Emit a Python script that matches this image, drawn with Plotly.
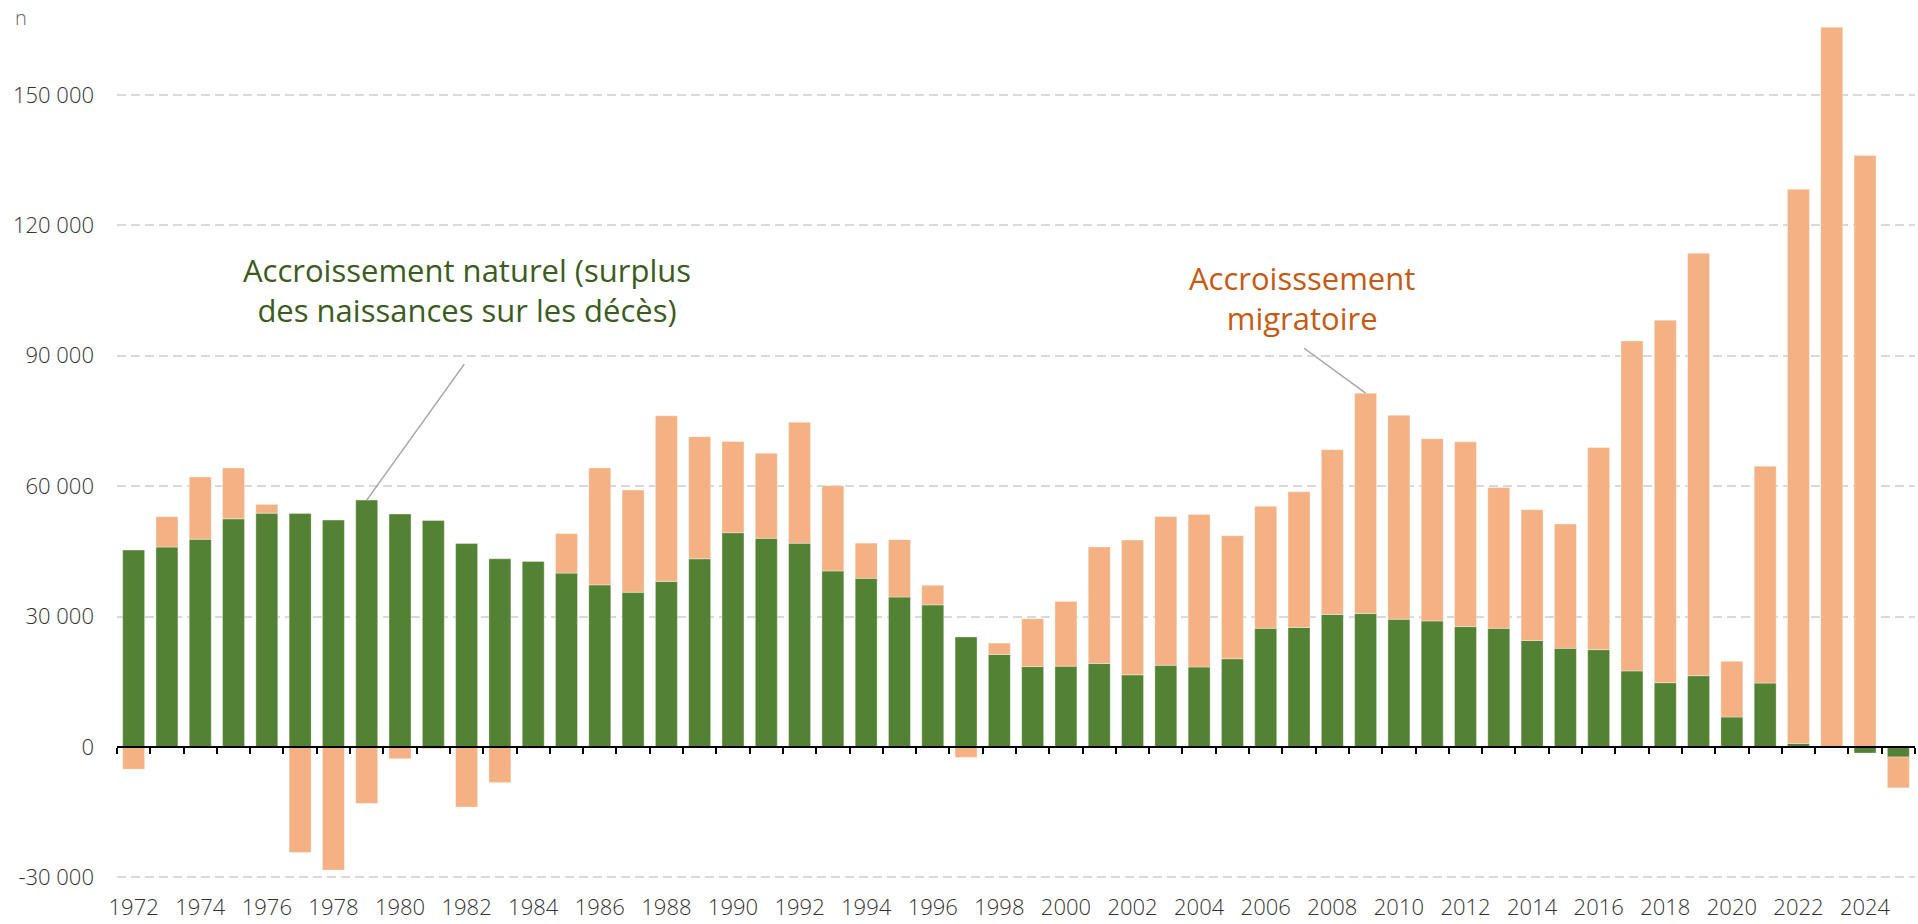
import plotly.graph_objects as go

# ---------------- data ----------------
years = list(range(1972, 2026))
natural = [45300, 46000, 47800, 52500, 53800, 53700, 52200, 56800, 53600, 52100,
           46800, 43300, 42700, 40000, 37300, 35600, 38100, 43300, 49300, 48000,
           46900, 40500, 38800, 34500, 32700, 25300, 21300, 18500, 18600, 19200,
           16600, 18800, 18400, 20300, 27300, 27500, 30500, 30700, 29400, 29000,
           27700, 27300, 24500, 22700, 22400, 17500, 14800, 16400, 6900, 14700,
           800, 0, -1400, -2300]
migration = [-5100, 7000, 14300, 11700, 2000, -24300, -28300, -13000, -2700, -400,
             -13800, -8200, -300, 9100, 26900, 23500, 38100, 28100, 21000, 19600,
             27800, 19600, 8100, 13200, 4500, -2400, 2600, 11000, 14900, 26800,
             31000, 34200, 35100, 28300, 28100, 31200, 37900, 50700, 46900, 41900,
             42500, 32400, 30100, 28600, 46500, 75900, 83400, 97200, 12800, 49900,
             127500, 165600, 136100, -7100]
x_tick_years = list(range(1972, 2026, 2))
y_tick_values = [-30000, 0, 30000, 60000, 90000, 120000, 150000]
y_tick_labels = ["-30 000", "0", "30 000", "60 000", "90 000", "120 000", "150 000"]

label_natural = "Accroissement naturel (surplus<br>des naissances sur les décès)"
label_migration = "Accroisssement<br>migratoire"

# ---------------- style ----------------
GREEN = "#548235"
ORANGE = "#F4B183"
GREEN_TEXT = "#3B5C1D"
ORANGE_TEXT = "#C55A11"
FONT = "Open Sans"

Y_MIN, Y_MAX = -33360, 167250
X_MIN, X_MAX = 1971.5, 2025.5
zero_pos = (0 - Y_MIN) / (Y_MAX - Y_MIN)

fig = go.Figure()
fig.add_trace(go.Bar(x=years, y=natural, name="Accroissement naturel",
                     marker=dict(color=GREEN, line=dict(color="rgba(255,255,255,0.35)", width=1))))
fig.add_trace(go.Bar(x=years, y=migration, name="Accroissement migratoire",
                     marker=dict(color=ORANGE, line=dict(color="rgba(255,255,255,0.35)", width=1))))
# helper trace so that the zero-line axis (ticks between years) is drawn
fig.add_trace(go.Scatter(x=years, y=[0] * len(years), xaxis="x2", yaxis="y",
                         mode="markers", marker=dict(opacity=0, size=1),
                         hoverinfo="skip", showlegend=False))

i79 = years.index(1979)
i09 = years.index(2009)

fig.update_layout(
    width=1918, height=924,
    margin=dict(l=117, r=3, t=20, b=32),
    paper_bgcolor="white", plot_bgcolor="white",
    barmode="relative", bargap=0.34,
    showlegend=False,
    font=dict(family=FONT, color="#333333", size=22, weight=300),
    xaxis=dict(range=[X_MIN, X_MAX], tickmode="array", tickvals=x_tick_years,
               ticks="", showline=False, showgrid=False, zeroline=False,
               tickfont=dict(size=22, color="#333333", weight=300), fixedrange=True),
    xaxis2=dict(overlaying="x", anchor="free", position=zero_pos, side="bottom",
                range=[X_MIN, X_MAX], tickmode="linear", tick0=1971.5, dtick=1,
                ticks="outside", ticklen=6, tickwidth=2, tickcolor="black",
                showline=True, linecolor="black", linewidth=2,
                showticklabels=False, showgrid=False, zeroline=False),
    yaxis=dict(range=[Y_MIN, Y_MAX], tickmode="array", tickvals=y_tick_values,
               ticktext=y_tick_labels, showgrid=True, gridcolor="#D9D9D9",
               gridwidth=2, griddash="9px,5px", zeroline=False, ticks="",
               showline=False, ticklabelstandoff=22,
               tickfont=dict(size=22, color="#333333", weight=300)),
    annotations=[
        dict(x=1982.0, y=105200, xref="x", yref="y", text=label_natural,
             showarrow=False, xanchor="center", yanchor="middle",
             font=dict(family=FONT, size=31, color=GREEN_TEXT, weight=400)),
        dict(x=years[i79], y=natural[i79], xref="x", yref="y", text=" ",
             showarrow=True, arrowhead=0, arrowwidth=1.5, arrowcolor="#A6A6A6",
             ax=99, ay=-138, standoff=0, font=dict(size=1)),
        dict(x=2007.1, y=103400, xref="x", yref="y", text=label_migration,
             showarrow=False, xanchor="center", yanchor="middle",
             font=dict(family=FONT, size=31, color=ORANGE_TEXT, weight=400)),
        dict(x=years[i09], y=natural[i09] + migration[i09], xref="x", yref="y", text=" ",
             showarrow=True, arrowhead=0, arrowwidth=1.5, arrowcolor="#A6A6A6",
             ax=-63, ay=-46, standoff=0, font=dict(size=1)),
        dict(x=-0.0534, y=1.003, xref="paper", yref="paper", text="n",
             showarrow=False, xanchor="center", yanchor="middle",
             font=dict(family=FONT, size=20, color="#666666", weight=300)),
    ],
)

fig.write_html("out.html", config={"displayModeBar": False},
               post_script="document.body.style.margin='0';document.body.style.overflow='hidden';")
